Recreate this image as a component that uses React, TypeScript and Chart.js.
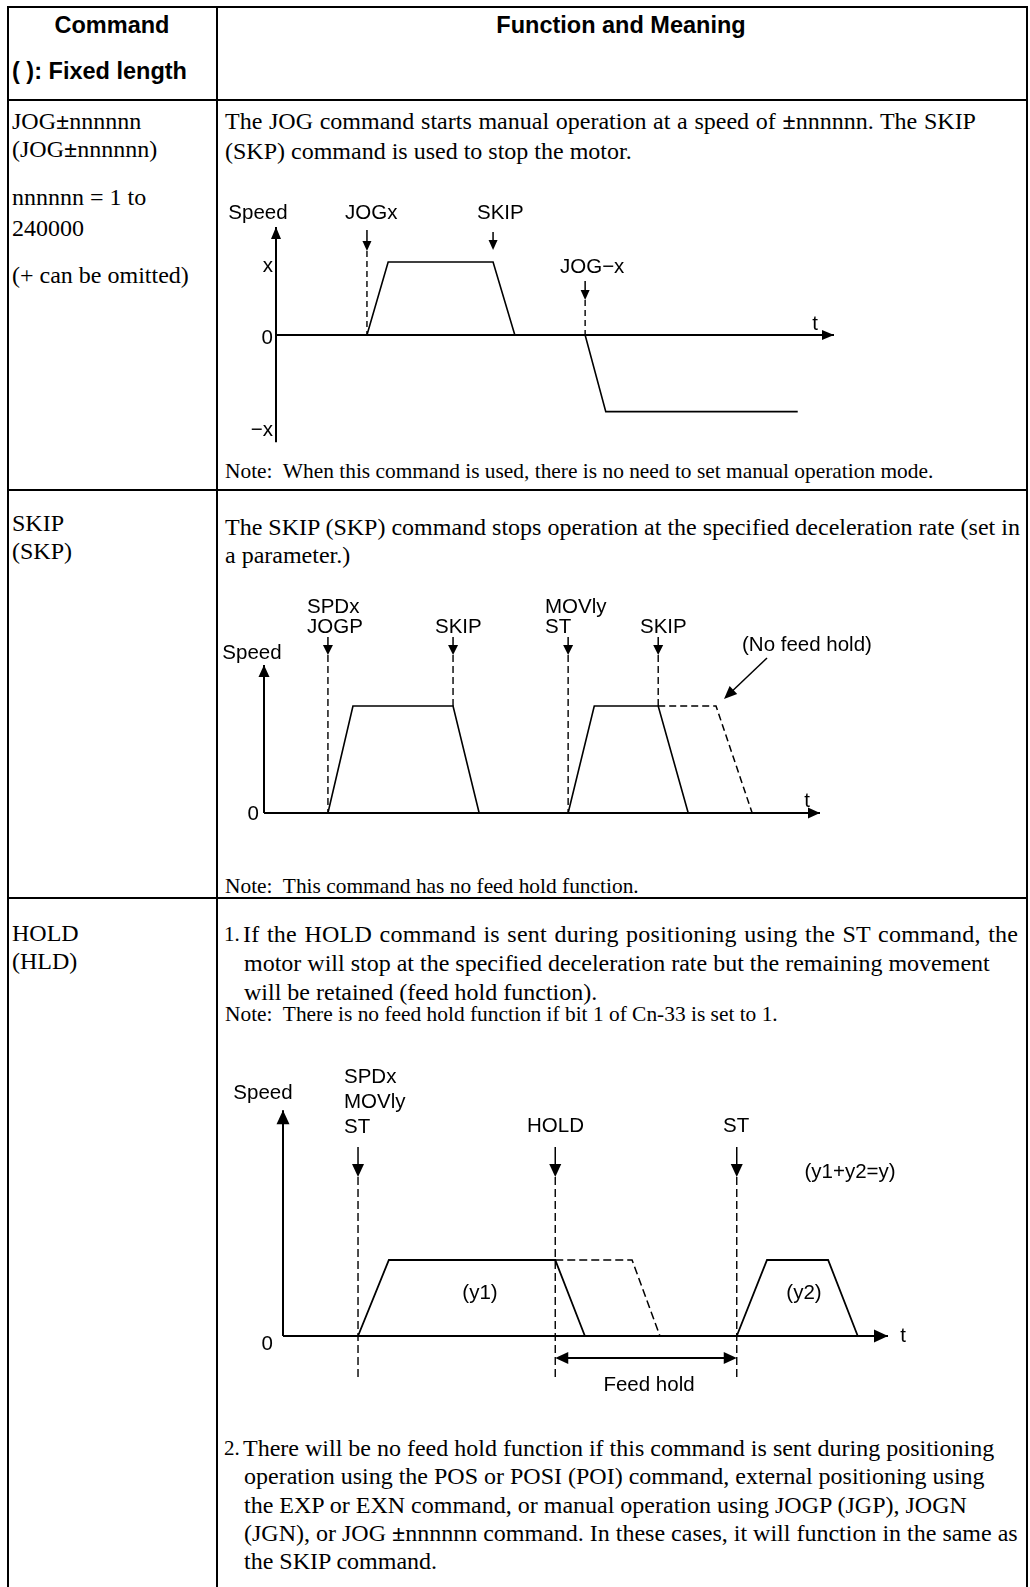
import React, { useEffect, useRef } from "react";
import { Chart, registerables } from "chart.js";

Chart.register(...registerables);

// ---------------- Diagram 1 : JOG±nnnnnn ----------------
const jogTimes = [16.3, 20.1, 38.9, 42.8, 55.4, 59.1, 93.5];
const jogSpeeds = [0, 1, 1, 0, 0, -1.05, -1.05];
const jogAxisTime = [0, 100];
const jogAxisSpeed = [-1.47, 1.48];
const jogCmdLabels = [["JOGx"], ["SKIP"], ["JOG−x"]];
const jogCmdTimes = [16.3, 38.9, 55.4];
const jogCmdTargets = [0, 1, 0];
const jogTickValues = [1, 0, -1.05];
const jogTickLabels = ["x", "0", "−x"];

// ---------------- Diagram 2 : SKIP ----------------
const skipRun1Times = [11.5, 16.0, 34.0, 38.7];
const skipRun1Speeds = [0, 1, 1, 0];
const skipRun2Times = [54.7, 59.4, 70.9, 76.3];
const skipRun2Speeds = [0, 1, 1, 0];
const skipNoHoldTimes = [70.9, 81.3, 87.8];
const skipNoHoldSpeeds = [1, 1, 0];
const skipAxisTime = [0, 100];
const skipAxisSpeed = [0, 1.383];
const skipCmdLabels = [["SPDx", "JOGP"], ["SKIP"], ["MOVly", "ST"], ["SKIP"]];
const skipCmdTimes = [11.5, 34.0, 54.7, 70.9];
const skipCmdTargets = [0, 1, 0, 1];
const skipTickValues = [0];
const skipTickLabels = ["0"];
const skipNotes = ["(No feed hold)"];

// ---------------- Diagram 3 : HOLD ----------------
const holdRun1Times = [12.4, 17.5, 45.0, 49.9];
const holdRun1Speeds = [0, 1, 1, 0];
const holdPlannedTimes = [45.0, 57.7, 62.3];
const holdPlannedSpeeds = [1, 1, 0];
const holdRun2Times = [75.0, 80.0, 90.1, 95.0];
const holdRun2Speeds = [0, 1, 1, 0];
const holdAxisTime = [0, 100];
const holdAxisSpeed = [0, 2.97];
const holdCmdLabels = [["SPDx", "MOVly", "ST"], ["HOLD"], ["ST"]];
const holdCmdTimes = [12.4, 45.0, 75.0];
const holdCmdTargets = [0, 0, 0];
const holdTickValues = [0];
const holdTickLabels = ["0"];
const holdFeedHoldTimes = [45.0, 75.0];
const holdNotes = ["(y1)", "(y2)", "(y1+y2=y)", "Feed hold"];

const SANS = '"Liberation Sans", Arial, Helvetica, sans-serif';
const SERIF = '"Liberation Serif", "Times New Roman", Times, serif';
const LABEL_FONT = `20.5px ${SANS}`;

interface Series { t: number[]; s: number[]; dashed?: boolean; width: number }
interface CmdBox { x: number; align: CanvasTextAlign; baselines: number[]; shaftTop: number; tip: number }
interface NoteBox { x: number; y: number; align: CanvasTextAlign }
interface Helpers {
  ctx: CanvasRenderingContext2D;
  X: (t: number) => number;
  Y: (s: number) => number;
  px: (x: number) => number;
  py: (y: number) => number;
}
interface DiagramSpec {
  rect: { left: number; top: number; width: number; height: number };
  origin: { x: number; y: number };
  tUnit: number;
  sUnit: number;
  series: Series[];
  dash: number[];
  axisTime: number[];
  axisSpeed: number[];
  axisHead: { len: number; half: number };
  speedLabel: { x: number; y: number };
  tLabel: { x: number; y: number };
  tickValues: number[];
  tickLabels: string[];
  tickRight: number;
  tickDy: number[];
  cmdLabels: string[][];
  cmdTimes: number[];
  cmdTargets: number[];
  cmdBoxes: CmdBox[];
  cmdHead: { len: number; half: number };
  dashBelow: number;
  notes: string[];
  noteBoxes: NoteBox[];
  extra?: (h: Helpers) => void;
}

function head(ctx: CanvasRenderingContext2D, x: number, y: number, dx: number, dy: number, len: number, half: number) {
  const m = Math.hypot(dx, dy);
  const ux = dx / m, uy = dy / m;
  const bx = x - ux * len, by = y - uy * len;
  const nx = -uy, ny = ux;
  ctx.beginPath();
  ctx.moveTo(x, y);
  ctx.lineTo(bx + nx * half, by + ny * half);
  ctx.lineTo(bx - nx * half, by - ny * half);
  ctx.closePath();
  ctx.fill();
}

function seg(ctx: CanvasRenderingContext2D, x1: number, y1: number, x2: number, y2: number, w: number, dash: number[] = []) {
  ctx.save();
  ctx.lineWidth = w;
  ctx.setLineDash(dash);
  ctx.beginPath();
  ctx.moveTo(x1, y1);
  ctx.lineTo(x2, y2);
  ctx.stroke();
  ctx.restore();
}

const jogSpec: DiagramSpec = {
  rect: { left: 220, top: 180, width: 800, height: 275 },
  origin: { x: 276, y: 335 },
  tUnit: 5.58,
  sUnit: 73,
  series: [
    { t: jogAxisTime, s: [0, 0], width: 2 },
    { t: [0, 0], s: jogAxisSpeed, width: 2 },
    { t: jogTimes, s: jogSpeeds, width: 1.6 },
  ],
  dash: [6, 4],
  axisTime: jogAxisTime,
  axisSpeed: jogAxisSpeed,
  axisHead: { len: 12, half: 5 },
  speedLabel: { x: 258, y: 219 },
  tLabel: { x: 815, y: 330 },
  tickValues: jogTickValues,
  tickLabels: jogTickLabels,
  tickRight: 273,
  tickDy: [10, 9, 24],
  cmdLabels: jogCmdLabels,
  cmdTimes: jogCmdTimes,
  cmdTargets: jogCmdTargets,
  cmdBoxes: [
    { x: 345, align: "left", baselines: [219], shaftTop: 230, tip: 251 },
    { x: 477, align: "left", baselines: [219], shaftTop: 232, tip: 250 },
    { x: 560, align: "left", baselines: [273], shaftTop: 281, tip: 300 },
  ],
  cmdHead: { len: 10, half: 4.5 },
  dashBelow: 0,
  notes: [],
  noteBoxes: [],
};

const skipSpec: DiagramSpec = {
  rect: { left: 220, top: 590, width: 800, height: 250 },
  origin: { x: 264, y: 813 },
  tUnit: 5.56,
  sUnit: 107,
  series: [
    { t: skipAxisTime, s: [0, 0], width: 2 },
    { t: [0, 0], s: skipAxisSpeed, width: 2 },
    { t: skipRun1Times, s: skipRun1Speeds, width: 1.6 },
    { t: skipRun2Times, s: skipRun2Speeds, width: 1.6 },
    { t: skipNoHoldTimes, s: skipNoHoldSpeeds, width: 1.5, dashed: true },
  ],
  dash: [7, 4],
  axisTime: skipAxisTime,
  axisSpeed: skipAxisSpeed,
  axisHead: { len: 12, half: 5.5 },
  speedLabel: { x: 252, y: 659 },
  tLabel: { x: 807, y: 807 },
  tickValues: skipTickValues,
  tickLabels: skipTickLabels,
  tickRight: 259,
  tickDy: [7],
  cmdLabels: skipCmdLabels,
  cmdTimes: skipCmdTimes,
  cmdTargets: skipCmdTargets,
  cmdBoxes: [
    { x: 307, align: "left", baselines: [613, 633], shaftTop: 637, tip: 655 },
    { x: 435, align: "left", baselines: [633], shaftTop: 637, tip: 655 },
    { x: 545, align: "left", baselines: [613, 633], shaftTop: 637, tip: 655 },
    { x: 640, align: "left", baselines: [633], shaftTop: 637, tip: 655 },
  ],
  cmdHead: { len: 10, half: 5 },
  dashBelow: 0,
  notes: skipNotes,
  noteBoxes: [{ x: 742, y: 651, align: "left" }],
  extra: ({ ctx, px, py }) => {
    seg(ctx, px(767), py(658), px(726), py(697), 1.5);
    head(ctx, px(724), py(699), -43, 41, 13, 5.5);
  },
};

const holdSpec: DiagramSpec = {
  rect: { left: 220, top: 1060, width: 800, height: 340 },
  origin: { x: 283, y: 1336 },
  tUnit: 6.05,
  sUnit: 76,
  series: [
    { t: holdAxisTime, s: [0, 0], width: 2 },
    { t: [0, 0], s: holdAxisSpeed, width: 2 },
    { t: holdRun1Times, s: holdRun1Speeds, width: 1.8 },
    { t: holdPlannedTimes, s: holdPlannedSpeeds, width: 1.5, dashed: true },
    { t: holdRun2Times, s: holdRun2Speeds, width: 1.8 },
  ],
  dash: [8, 4],
  axisTime: holdAxisTime,
  axisSpeed: holdAxisSpeed,
  axisHead: { len: 14, half: 6.5 },
  speedLabel: { x: 263, y: 1099 },
  tLabel: { x: 903, y: 1342 },
  tickValues: holdTickValues,
  tickLabels: holdTickLabels,
  tickRight: 273,
  tickDy: [14],
  cmdLabels: holdCmdLabels,
  cmdTimes: holdCmdTimes,
  cmdTargets: holdCmdTargets,
  cmdBoxes: [
    { x: 344, align: "left", baselines: [1083, 1108, 1133], shaftTop: 1147, tip: 1177 },
    { x: 527, align: "left", baselines: [1132], shaftTop: 1147, tip: 1177 },
    { x: 723, align: "left", baselines: [1132], shaftTop: 1147, tip: 1177 },
  ],
  cmdHead: { len: 13, half: 6 },
  dashBelow: 41,
  notes: holdNotes,
  noteBoxes: [
    { x: 480, y: 1299, align: "center" },
    { x: 804, y: 1299, align: "center" },
    { x: 850, y: 1178, align: "center" },
    { x: 649, y: 1391, align: "center" },
  ],
  extra: ({ ctx, X, py }) => {
    const y = py(1358);
    const a = X(holdFeedHoldTimes[0]);
    const b = X(holdFeedHoldTimes[1]);
    seg(ctx, a + 6, y, b - 6, y, 2.2);
    head(ctx, a, y, -1, 0, 13, 6);
    head(ctx, b, y, 1, 0, 13, 6);
  },
};

function buildConfig(spec: DiagramSpec): any {
  const { rect, origin, tUnit, sUnit } = spec;
  const xMin = (rect.left - origin.x) / tUnit;
  const xMax = (rect.left + rect.width - origin.x) / tUnit;
  const yMax = (origin.y - rect.top) / sUnit;
  const yMin = (origin.y - (rect.top + rect.height)) / sUnit;

  const annot = {
    id: "diagramAnnotations",
    afterDatasetsDraw(chart: any) {
      const ctx: CanvasRenderingContext2D = chart.ctx;
      const xs = chart.scales.x;
      const ys = chart.scales.y;
      const X = (t: number) => xs.getPixelForValue(t);
      const Y = (s: number) => ys.getPixelForValue(s);
      const px = (x: number) => x - rect.left;
      const py = (y: number) => y - rect.top;
      ctx.save();
      ctx.fillStyle = "#000";
      ctx.strokeStyle = "#000";
      head(ctx, X(spec.axisTime[1]), Y(0), 1, 0, spec.axisHead.len, spec.axisHead.half);
      head(ctx, X(0), Y(spec.axisSpeed[1]), 0, -1, spec.axisHead.len, spec.axisHead.half);
      ctx.font = LABEL_FONT;
      ctx.textBaseline = "alphabetic";
      ctx.textAlign = "center";
      ctx.fillText("Speed", px(spec.speedLabel.x), py(spec.speedLabel.y));
      ctx.fillText("t", px(spec.tLabel.x), py(spec.tLabel.y));
      ctx.textAlign = "right";
      spec.tickValues.forEach((v, i) => {
        ctx.fillText(spec.tickLabels[i], px(spec.tickRight), Y(v) + spec.tickDy[i]);
      });
      spec.cmdTimes.forEach((t, i) => {
        const box = spec.cmdBoxes[i];
        const x = X(t);
        ctx.textAlign = box.align;
        spec.cmdLabels[i].forEach((line, j) => {
          ctx.fillText(line, px(box.x), py(box.baselines[j]));
        });
        const tip = py(box.tip);
        seg(ctx, x, py(box.shaftTop), x, tip - spec.cmdHead.len + 1, 1.5);
        head(ctx, x, tip, 0, 1, spec.cmdHead.len, spec.cmdHead.half);
        const end = Y(spec.cmdTargets[i]) + spec.dashBelow;
        if (end - tip > 16) seg(ctx, x, tip, x, end, 1.4, spec.dash);
      });
      spec.notes.forEach((n, i) => {
        const b = spec.noteBoxes[i];
        ctx.textAlign = b.align;
        ctx.fillText(n, px(b.x), py(b.y));
      });
      if (spec.extra) spec.extra({ ctx, X, Y, px, py });
      ctx.restore();
    },
  };

  return {
    type: "scatter",
    data: {
      datasets: spec.series.map((s) => ({
        data: s.t.map((t, i) => ({ x: t, y: s.s[i] })),
        showLine: true,
        borderColor: "#000",
        backgroundColor: "#000",
        borderWidth: s.width,
        borderDash: s.dashed ? spec.dash : [],
        pointRadius: 0,
        pointHoverRadius: 0,
        fill: false,
        tension: 0,
        clip: false,
      })),
    },
    options: {
      responsive: false,
      maintainAspectRatio: false,
      animation: false,
      devicePixelRatio: 1,
      events: [],
      layout: { padding: 0 },
      plugins: { legend: { display: false }, tooltip: { enabled: false }, title: { display: false } },
      scales: {
        x: { type: "linear", display: false, bounds: "data", min: xMin, max: xMax, grace: 0 },
        y: { type: "linear", display: false, bounds: "data", min: yMin, max: yMax, grace: 0 },
      },
    },
    plugins: [annot],
  };
}

function Diagram({ spec }: { spec: DiagramSpec }) {
  const ref = useRef<HTMLCanvasElement>(null);
  useEffect(() => {
    const chart = new Chart(ref.current as HTMLCanvasElement, buildConfig(spec));
    return () => chart.destroy();
  }, [spec]);
  const r = spec.rect;
  return (
    <canvas
      ref={ref}
      width={r.width}
      height={r.height}
      style={{ position: "absolute", left: r.left, top: r.top, width: r.width, height: r.height }}
    />
  );
}

function T({ x, y, size = 24, sans = false, bold = false, center = false, ws = 0, ls = 0, children }: any) {
  const style: React.CSSProperties = {
    position: "absolute",
    left: x,
    top: y - 16,
    height: 30,
    lineHeight: "30px",
    fontSize: size,
    fontFamily: sans ? SANS : SERIF,
    fontWeight: bold ? 700 : 400,
    whiteSpace: "pre",
    wordSpacing: ws,
    letterSpacing: ls,
    color: "#000",
  };
  if (center) style.transform = "translateX(-50%)";
  return <div style={style}>{children}</div>;
}

function HLine({ y }: { y: number }) {
  return <div style={{ position: "absolute", left: 7, top: y, width: 1021, height: 1.5, background: "#000" }} />;
}
function VLine({ x }: { x: number }) {
  return <div style={{ position: "absolute", left: x, top: 6, width: 1.5, height: 1581, background: "#000" }} />;
}

const PM = () => <b>±</b>;
const NOTE = 21.4;

export default function App() {
  return (
    <div style={{ position: "absolute", left: 0, top: 0, width: 1030, height: 1587, overflow: "hidden", background: "#fff" }}>
      <HLine y={6} />
      <HLine y={99} />
      <HLine y={489} />
      <HLine y={897} />
      <VLine x={7} />
      <VLine x={216} />
      <VLine x={1026} />

      <T x={112} y={26} size={23.5} sans bold center>Command</T>
      <T x={12} y={72} size={23.5} sans bold>( ): Fixed length</T>
      <T x={621} y={26} size={23.5} sans bold center>Function and Meaning</T>

      <T x={12} y={122}>JOG<PM />nnnnnn</T>
      <T x={12} y={150}>(JOG<PM />nnnnnn)</T>
      <T x={12} y={198}>nnnnnn = 1 to</T>
      <T x={12} y={229}>240000</T>
      <T x={12} y={276}>(+ can be omitted)</T>

      <T x={225} y={122} ws={0.7}>The JOG command starts manual operation at a speed of <PM />nnnnnn. The SKIP</T>
      <T x={225} y={152}>(SKP) command is used to stop the motor.</T>
      <T x={225} y={472} size={NOTE}>Note:  When this command is used, there is no need to set manual operation mode.</T>

      <T x={12} y={524}>SKIP</T>
      <T x={12} y={552}>(SKP)</T>
      <T x={225} y={528}>The SKIP (SKP) command stops operation at the specified deceleration rate (set in</T>
      <T x={225} y={556}>a parameter.)</T>
      <T x={225} y={887} size={NOTE}>Note:  This command has no feed hold function.</T>

      <T x={12} y={934}>HOLD</T>
      <T x={12} y={962}>(HLD)</T>
      <T x={224} y={935} size={21}>1.</T>
      <T x={243} y={935} ws={1.2} ls={0.25}>If the HOLD command is sent during positioning using the ST command, the</T>
      <T x={244} y={964}>motor will stop at the specified deceleration rate but the remaining movement</T>
      <T x={244} y={993}>will be retained (feed hold function).</T>
      <T x={225} y={1015} size={NOTE}>Note:  There is no feed hold function if bit 1 of Cn-33 is set to 1.</T>

      <T x={224} y={1449} size={21}>2.</T>
      <T x={243} y={1449}>There will be no feed hold function if this command is sent during positioning</T>
      <T x={244} y={1477}>operation using the POS or POSI (POI) command, external positioning using</T>
      <T x={244} y={1506}>the EXP or EXN command, or manual operation using JOGP (JGP), JOGN</T>
      <T x={244} y={1534}>(JGN), or JOG <PM />nnnnnn command. In these cases, it will function in the same as</T>
      <T x={244} y={1562}>the SKIP command.</T>

      <Diagram spec={jogSpec} />
      <Diagram spec={skipSpec} />
      <Diagram spec={holdSpec} />
    </div>
  );
}
